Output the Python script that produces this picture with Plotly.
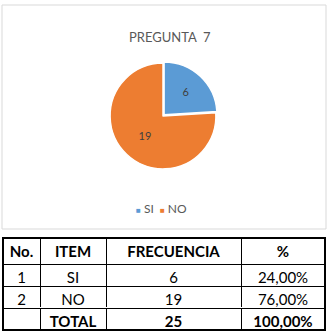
import plotly.graph_objects as go

W, H = 328, 336

title = "PREGUNTA  7"
labels = ["SI", "NO"]
values = [6, 19]
colors = ["#5B9BD5", "#ED7D31"]

tbl_header = ["No.", "ITEM", "FRECUENCIA", "%"]
tbl_no = ["1", "2"]
tbl_item = ["SI", "NO"]
tbl_freq = ["6", "19"]
tbl_pct = ["24,00%", "76,00%"]
tbl_total = ["", "TOTAL", "25", "100,00%"]


def px_x(x):
    return x / W


def px_y(y):
    return 1 - y / H


TOP, HDR, ROW, TOT = 238, 26, 22, 22
X0, X1 = 3, 325
col_w = [37, 66, 135, 84]
FONT = "Lato"

fig = go.Figure()

fig.add_trace(go.Pie(
    labels=labels, values=values,
    marker=dict(colors=colors, line=dict(color="white", width=1.5)),
    sort=False, direction="clockwise", rotation=0,
    pull=[0.03, 0],
    textinfo="value", textposition="inside",
    insidetextfont=dict(family=FONT, size=11, color="#404040"),
    showlegend=False, hoverinfo="skip",
    domain=dict(x=[px_x(108.5), px_x(217.5)], y=[px_y(171), px_y(61)]),
))

body_bottom = TOP + HDR + ROW * len(tbl_no)
fig.add_trace(go.Table(
    domain=dict(x=[px_x(X0), px_x(X1)], y=[px_y(body_bottom), px_y(TOP)]),
    columnwidth=col_w,
    header=dict(
        values=tbl_header,
        align="center", height=HDR,
        line=dict(color="black", width=1),
        fill=dict(color="white"),
        font=dict(family=FONT, size=15, color="black", weight="bold"),
    ),
    cells=dict(
        values=[tbl_no, tbl_item, tbl_freq, tbl_pct],
        align="center", height=ROW,
        line=dict(color="black", width=1),
        fill=dict(color="white"),
        font=dict(family=FONT, size=15, color="black"),
    ),
))

# total row (bold)
fig.add_trace(go.Table(
    domain=dict(x=[px_x(X0), px_x(X1)], y=[px_y(body_bottom + TOT), px_y(body_bottom)]),
    columnwidth=col_w,
    header=dict(
        values=tbl_total,
        align="center", height=TOT,
        line=dict(color="black", width=1),
        fill=dict(color="white"),
        font=dict(family=FONT, size=15, color="black", weight="bold"),
    ),
    cells=dict(values=[[], [], [], []], height=1,
               line=dict(color="white", width=0), fill=dict(color="white")),
))

legend_text = "  ".join(
    f"<span style='color:{c};font-size:8px'>■</span> {l}" for c, l in zip(colors, labels)
)

fig.update_layout(
    width=W, height=H,
    margin=dict(l=0, r=0, t=0, b=0),
    paper_bgcolor="white", plot_bgcolor="white",
    font=dict(family=FONT, color="#595959"),
    shapes=[
        dict(type="rect", xref="paper", yref="paper",
             x0=px_x(2), x1=px_x(326), y0=px_y(229), y1=px_y(5),
             line=dict(color="#D9D9D9", width=1)),
        dict(type="rect", xref="paper", yref="paper",
             x0=px_x(X0), x1=px_x(X1), y0=px_y(body_bottom + TOT), y1=px_y(TOP),
             line=dict(color="black", width=2)),
    ],
    annotations=[
        dict(text=title, x=px_x(170), y=px_y(27), xref="paper", yref="paper",
             showarrow=False, font=dict(family=FONT, size=13, color="#595959")),
        dict(text=legend_text, x=px_x(161), y=px_y(208), xref="paper", yref="paper",
             showarrow=False, font=dict(family=FONT, size=12, color="#595959")),
    ],
)

fig.write_html("out.html")
